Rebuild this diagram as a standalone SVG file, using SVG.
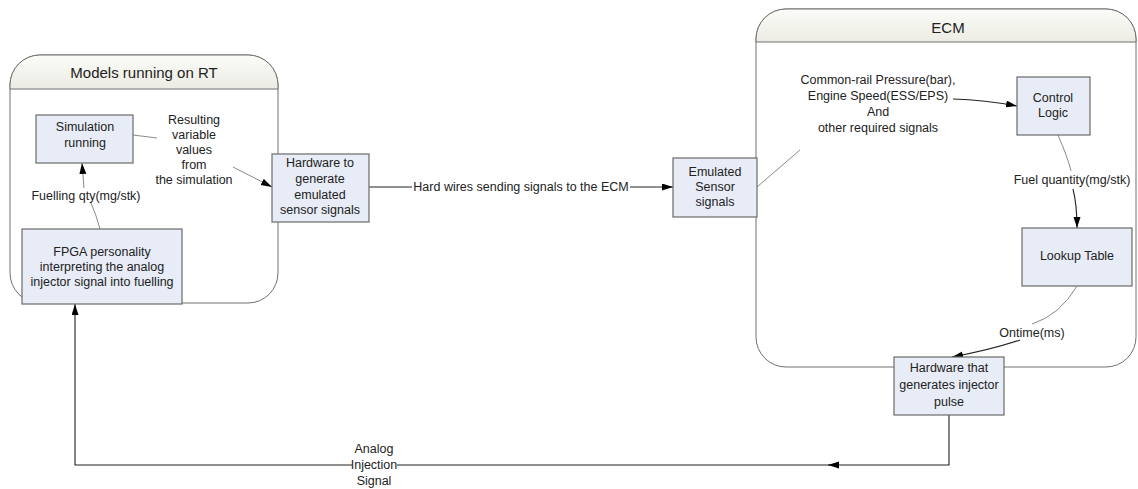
<svg xmlns="http://www.w3.org/2000/svg" width="1138" height="489" viewBox="0 0 1138 489">
<style>
text{font-family:"Liberation Sans",Arial,sans-serif;font-size:12.5px;fill:#222;text-anchor:middle;dominant-baseline:central}
.hdr{font-size:15px}
.box{fill:#e8ecf6;stroke:#6b6b6b;stroke-width:1.2}
.cont{fill:#fff;stroke:#707070;stroke-width:1}
.c{fill:none;stroke:#222;stroke-width:1.1}
.g{fill:none;stroke:#8a8a8a;stroke-width:1}
</style>
<defs>
<marker id="ah" markerUnits="userSpaceOnUse" markerWidth="12" markerHeight="8" refX="11" refY="3.5" orient="auto">
<path d="M0,0 L11,3.5 L0,7 z" fill="#000"/>
</marker>
<linearGradient id="hg" x1="0" y1="0" x2="0" y2="1">
<stop offset="0" stop-color="#fbfbf8"/>
<stop offset="1" stop-color="#ecece4"/>
</linearGradient>
<clipPath id="clipL"><path d="M10,303 V85 A30,30 0 0 1 40,55 H248 A30,30 0 0 1 278,85 V273 A30,30 0 0 1 248,303 Z"/></clipPath>
<clipPath id="clipR"><path d="M756,367 V39 A30,30 0 0 1 786,9 H1106 A30,30 0 0 1 1136,39 V337 A30,30 0 0 1 1106,367 H786 Z"/></clipPath>
</defs>

<g id="models-container">
<path class="cont" d="M40,303 A30,30 0 0 1 10,273 V85 A30,30 0 0 1 40,55 H248 A30,30 0 0 1 278,85 V273 A30,30 0 0 1 248,303 Z"/>
<rect fill="url(#hg)" x="10" y="55" width="268" height="34" clip-path="url(#clipL)"/>
<path d="M10,89 V85 A30,30 0 0 1 40,55 H248 A30,30 0 0 1 278,85 V89 Z" fill="none" stroke="#707070"/>
<text class="hdr" x="144" y="72">Models running on RT</text>
</g>

<g id="ecm-container">
<path class="cont" d="M786,367 A30,30 0 0 1 756,337 V39 A30,30 0 0 1 786,9 H1106 A30,30 0 0 1 1136,39 V337 A30,30 0 0 1 1106,367 Z"/>
<rect fill="url(#hg)" x="756" y="9" width="380" height="33" clip-path="url(#clipR)"/>
<path d="M756,42 V39 A30,30 0 0 1 786,9 H1106 A30,30 0 0 1 1136,39 V42 Z" fill="none" stroke="#707070"/>
<text class="hdr" x="948" y="27">ECM</text>
</g>

<g id="connectors">
<path class="g" d="M133,135 L157,138"/>
<path class="g" d="M233,167 L272,187" marker-end="url(#ah)"/>
<path class="g" d="M100,229 Q96,214 91,203"/>
<path class="g" d="M84,188 L82,163" marker-end="url(#ah)"/>
<path class="c" d="M369,187 H412"/>
<path class="c" d="M630,187 H673" marker-end="url(#ah)"/>
<path class="g" d="M757,187 L800,150"/>
<path class="c" d="M953,99 Q985,100 1017,106" marker-end="url(#ah)"/>
<path class="g" d="M1058,135 Q1068,158 1071,171"/>
<path class="c" d="M1073,189 Q1077,205 1077,228" marker-end="url(#ah)"/>
<path class="g" d="M1077,286 Q1060,315 1032,324"/>
<path class="c" d="M1020,340 Q990,350 952,357" marker-end="url(#ah)"/>
<path class="c" d="M949,415 V465 H828" marker-end="url(#ah)"/>
<path class="c" d="M830,465 H397"/>
<path class="c" d="M352,465 H75 V304" marker-end="url(#ah)"/>
<text x="194" y="120">Resulting</text>
<text x="194" y="135">variable</text>
<text x="194" y="150">values</text>
<text x="194" y="165">from</text>
<text x="194" y="180">the simulation</text>
<text x="86" y="196">Fuelling qty(mg/stk)</text>
<text x="521" y="187">Hard wires sending signals to the ECM</text>
<text x="878" y="80">Common-rail Pressure(bar),</text>
<text x="878" y="96">Engine Speed(ESS/EPS)</text>
<text x="878" y="112">And</text>
<text x="878" y="128">other required signals</text>
<text x="1072" y="180">Fuel quantity(mg/stk)</text>
<text x="1032" y="333">Ontime(ms)</text>
<text x="374" y="449">Analog</text>
<text x="374" y="465">Injection</text>
<text x="374" y="481">Signal</text>
</g>

<g id="simulation-running">
<rect class="box" x="36" y="115" width="97" height="48"/>
<text x="85" y="127">Simulation</text>
<text x="85" y="143">running</text>
</g>

<g id="fpga">
<rect class="box" x="22" y="229" width="160" height="75"/>
<text x="102" y="252">FPGA personality</text>
<text x="102" y="267">interpreting the analog</text>
<text x="102" y="282">injector signal into fuelling</text>
</g>

<g id="hardware-generate">
<rect class="box" x="272" y="154" width="97" height="68"/>
<text x="320" y="163">Hardware to</text>
<text x="320" y="179">generate</text>
<text x="320" y="195">emulated</text>
<text x="320" y="210">sensor signals</text>
</g>

<g id="emulated-sensor">
<rect class="box" x="673" y="158" width="84" height="59"/>
<text x="715" y="172">Emulated</text>
<text x="715" y="187">Sensor</text>
<text x="715" y="202">signals</text>
</g>

<g id="control-logic">
<rect class="box" x="1017" y="77" width="73" height="58"/>
<text x="1053" y="98">Control</text>
<text x="1053" y="113">Logic</text>
</g>

<g id="lookup-table">
<rect class="box" x="1022" y="228" width="110" height="58"/>
<text x="1077" y="256">Lookup Table</text>
</g>

<g id="hardware-injector">
<rect class="box" x="894" y="357" width="110" height="58"/>
<text x="949" y="368">Hardware that</text>
<text x="949" y="385">generates injector</text>
<text x="949" y="402">pulse</text>
</g>
</svg>
